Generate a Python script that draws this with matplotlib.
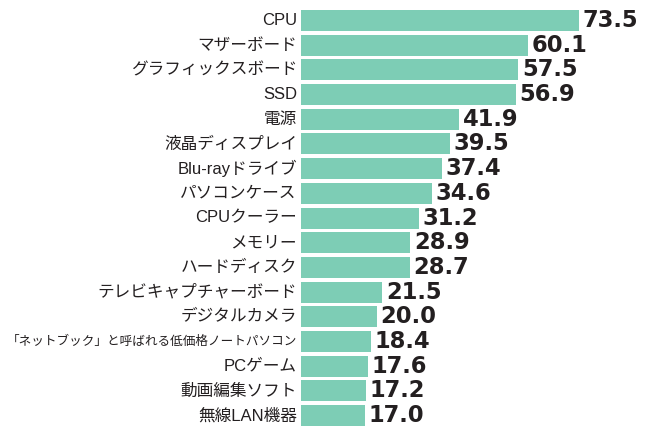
import matplotlib
matplotlib.use("Agg")
import matplotlib.pyplot as plt

# データ
labels = ["CPU", "マザーボード", "グラフィックスボード", "SSD", "電源", "液晶ディスプレイ",
          "Blu-rayドライブ", "パソコンケース", "CPUクーラー", "メモリー", "ハードディスク",
          "テレビキャプチャーボード", "デジタルカメラ", "「ネットブック」と呼ばれる低価格ノートパソコン",
          "PCゲーム", "動画編集ソフト", "無線LAN機器"]
values = [73.5, 60.1, 57.5, 56.9, 41.9, 39.5, 37.4, 34.6, 31.2, 28.9, 28.7,
          21.5, 20.0, 18.4, 17.6, 17.2, 17.0]

bar_color = "#7dcdb5"
text_color = "#231f20"

plt.rcParams['font.family'] = ['Liberation Sans', 'Noto Sans CJK JP', 'DejaVu Sans']

fig = plt.figure(figsize=(6.48, 4.26), dpi=100)
ax = fig.add_axes([301 / 648, 0, 347 / 648, 1])

y = list(range(len(values)))
ax.barh(y, values, height=0.85, color=bar_color, linewidth=0)

for yi, v, lab in zip(y, values, labels):
    ax.annotate(f"{v:.1f}", (v, yi), xytext=(2.5, 0), textcoords="offset points",
                ha="left", va="center", fontsize=16.3, fontweight="bold",
                family="DejaVu Sans", color=text_color)
    # 長いラベルは枠に収まるよう小さめに
    size = 9.1 if len(lab) > 16 else 12
    ax.annotate(lab, (0, yi), xytext=(-3, 0), textcoords="offset points",
                ha="right", va="center", fontsize=size, color=text_color,
                annotation_clip=False)

ax.set_xlim(0, 347 / 3.782)
ax.set_ylim(16.42, -0.83)
ax.axis("off")

fig.savefig("out.png", dpi=100)
